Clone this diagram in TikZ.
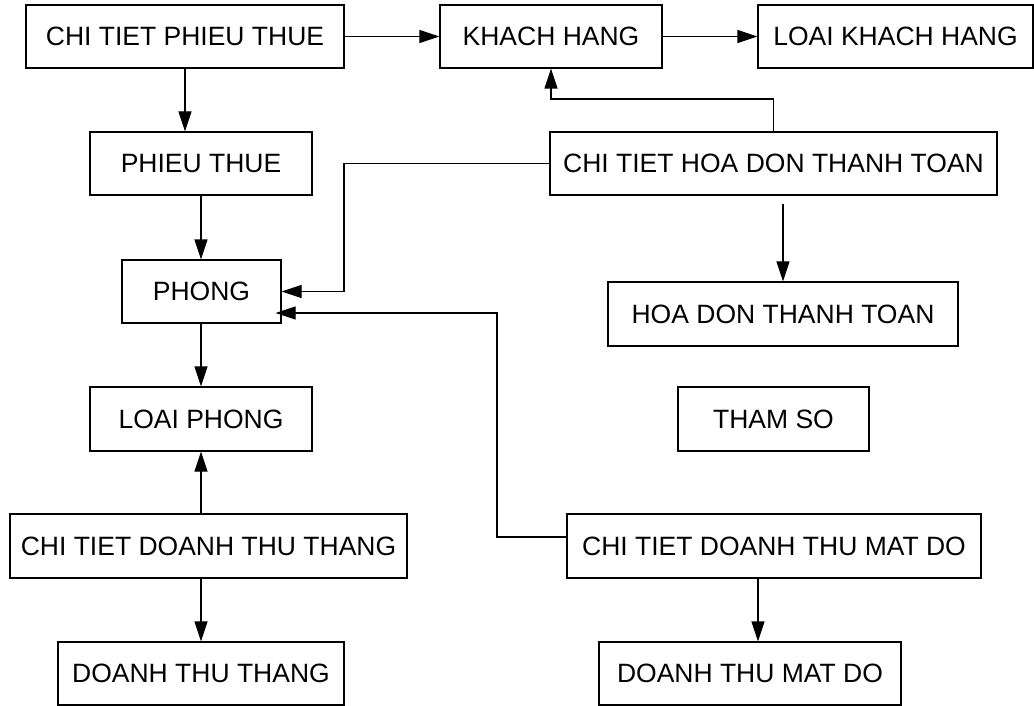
\documentclass[tikz,border=0pt]{standalone}
\usepackage{fontspec}
\setmainfont{Liberation Sans}
\usetikzlibrary{arrows.meta}

\begin{document}
\begin{tikzpicture}[x=1pt, y=-1pt,
  box/.style={draw, line width=1.1pt, inner sep=0pt, align=center,
    font=\fontsize{26.5}{30}\selectfont, minimum height=63pt},
  arr/.style={line width=1.1pt, -{Triangle[length=20pt, width=13pt]}},
  link/.style={line width=1.1pt}]

  \fill[white] (0,0) rectangle (1034,706);
  \useasboundingbox (0,0) rectangle (1034,706);

  % tables
  \node[box, minimum width=318pt] (ctpt)  at (185,36.5)   {CHI TIET PHIEU THUE};
  \node[box, minimum width=222pt] (kh)    at (551,36.5)   {KHACH HANG};
  \node[box, minimum width=275pt] (lkh)   at (895.5,36.5) {LOAI KHACH HANG};
  \node[box, minimum width=222pt] (pt)    at (201,163.5)  {PHIEU THUE};
  \node[box, minimum width=447pt] (cthd)  at (773.5,163.5){CHI TIET HOA DON THANH TOAN};
  \node[box, minimum width=159pt] (phong) at (201.5,291.5){PHONG};
  \node[box, minimum width=350pt, minimum height=64pt] (hdtt) at (783,314) {HOA DON THANH TOAN};
  \node[box, minimum width=222pt, minimum height=64pt] (lp)   at (201,419) {LOAI PHONG};
  \node[box, minimum width=191pt, minimum height=64pt] (ts)   at (773.5,419) {THAM SO};
  \node[box, minimum width=397pt, minimum height=64pt] (ctdtt) at (208.5,546) {CHI TIET DOANH THU THANG};
  \node[box, minimum width=414pt, minimum height=64pt] (ctmd)  at (774,546) {CHI TIET DOANH THU MAT DO};
  \node[box, minimum width=286pt] (dtt)   at (201,673.5) {DOANH THU THANG};
  \node[box, minimum width=302pt] (dtmd)  at (750,673.5) {DOANH THU MAT DO};

  % bend points of the routed links
  \coordinate (k1) at (551,99);
  \coordinate (c2) at (344,230);
  \coordinate (m1) at (497,537);
  \coordinate (m2) at (497,313);
  \coordinate (d1) at (758,600);

  % links
  \draw[arr] (ctpt.east) -- (kh.west);
  \draw[arr] (kh.east) -- (lkh.west);
  \draw[arr] (ctpt.south) -- (ctpt.south |- pt.north);
  \draw[arr] (pt.south) -- (pt.south |- phong.north);
  \draw[arr] (cthd.north) |- (k1) -- (kh.south);
  \draw[arr] (cthd.west) -| (c2) |- (phong.east);
  \draw[arr, shorten <=8pt] (hdtt.north |- cthd.south) -- (hdtt.north);
  \draw[arr] (lp.north |- phong.south) -- (lp.north);
  \draw[arr] (lp.south |- ctdtt.north) -- (lp.south);
  \draw[arr] (dtt.north |- ctdtt.south) -- (dtt.north);
  \draw[arr] (ctmd.west |- m1) -- (m1) -- (m2) -- ([xshift=-6pt]phong.east |- m2);
  \draw[arr] (ctmd.south -| d1) -- (dtmd.north -| d1);
\end{tikzpicture}
\end{document}
